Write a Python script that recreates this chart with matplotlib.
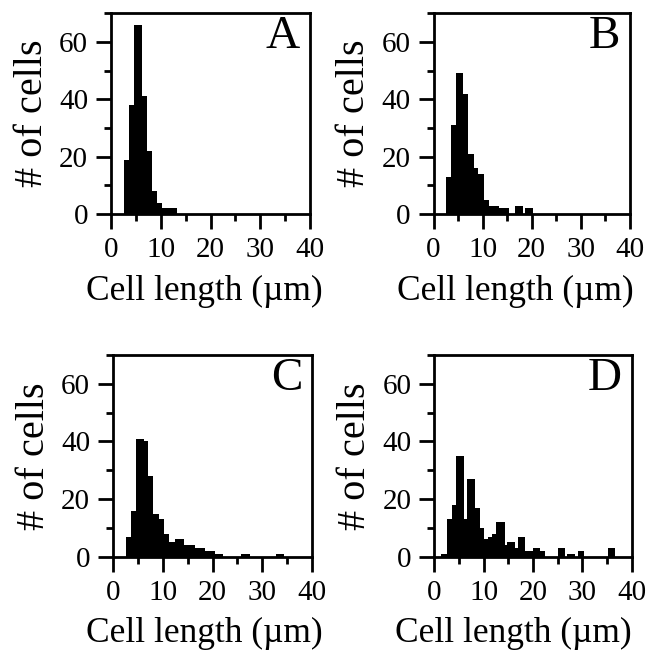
import numpy as np
import matplotlib
matplotlib.use("Agg")
import matplotlib.pyplot as plt
from matplotlib.ticker import MultipleLocator

plt.rcParams['font.family'] = ['Liberation Serif', 'DejaVu Serif']

# bin edges (um) and counts
edges_a = [2.5, 3.6, 4.6, 6.2, 7.2, 8.2, 9.2, 10.25, 11.3, 12.3, 13.3]
counts_a = [19, 38, 66, 41, 22, 8, 4, 2, 2, 2]

edges_b = [2.5, 3.55, 4.5, 6.1, 7.1, 8.2, 9.1, 10.2, 11.3, 13.3, 14.4, 15.4,
           16.6, 18.3, 18.6, 20.3]
counts_b = [13, 31, 49, 42, 21, 16, 14, 5, 3, 2, 2, 0, 3, 0, 2]

edges_c = [2.55, 3.55, 4.55, 6.2, 7.05, 8.05, 9.2, 10.25, 11.3, 12.5, 14.3,
           16.4, 18.4, 20.4, 22.2, 25.8, 27.5, 32.7, 34.3]
counts_c = [7, 16, 41, 40, 28, 15, 13, 8, 5, 6, 4, 3, 2, 1, 0, 1, 0, 1]

edges_d = [1.4, 2.5, 3.7, 4.4, 6.0, 6.7, 8.2, 9.2, 10.1, 10.8, 11.6, 12.6,
           14.4, 14.8, 16.4, 16.9, 18.4, 18.9, 19.9, 21.5, 22.4, 25.0, 26.4,
           26.9, 28.5, 29.1, 30.4, 35.1, 36.7]
counts_d = [1, 13, 18, 35, 13, 27, 17, 10, 6, 7, 8, 12, 4, 5, 3, 7, 2, 2, 3,
            2, 0, 3, 0, 1, 0, 2, 0, 3]

panels = [("A", edges_a, counts_a), ("B", edges_b, counts_b),
          ("C", edges_c, counts_c), ("D", edges_d, counts_d)]
rects = [[0.171, 0.673, 0.306, 0.307],
         [0.667, 0.673, 0.302, 0.307],
         [0.174, 0.150, 0.306, 0.308],
         [0.668, 0.150, 0.304, 0.308]]
# x position of the x label centre, in axes fraction
xlab_x = [0.467, 0.416, 0.46, 0.40]

fig = plt.figure(figsize=(6.5, 6.55), dpi=100)

for (letter, edges, counts), r, lx in zip(panels, rects, xlab_x):
    ax = fig.add_axes(r)
    ax.stairs(counts, edges, fill=True, color='black', linewidth=0)
    ax.set_xlim(0, 40)
    ax.set_ylim(0, 70)
    ax.xaxis.set_major_locator(MultipleLocator(10))
    ax.xaxis.set_minor_locator(MultipleLocator(5))
    ax.yaxis.set_major_locator(MultipleLocator(20))
    ax.yaxis.set_minor_locator(MultipleLocator(10))
    for s in ax.spines.values():
        s.set_linewidth(2.0)
    ax.tick_params(which='major', direction='out', length=10.5, width=2.0,
                   labelsize=21)
    ax.tick_params(which='minor', direction='out', length=5, width=2.0)
    ax.tick_params(axis='x', which='major', pad=6)
    ax.tick_params(axis='y', which='major', pad=6)
    ax.set_xlabel("Cell length (µm)", fontsize=25.5)
    ax.xaxis.set_label_coords(lx, -0.30)
    ax.set_ylabel("# of cells", fontsize=29, labelpad=6)
    ax.text(0.95, 0.99, letter, transform=ax.transAxes, ha='right', va='top',
            fontsize=34)

fig.savefig("out.png", dpi=100)
